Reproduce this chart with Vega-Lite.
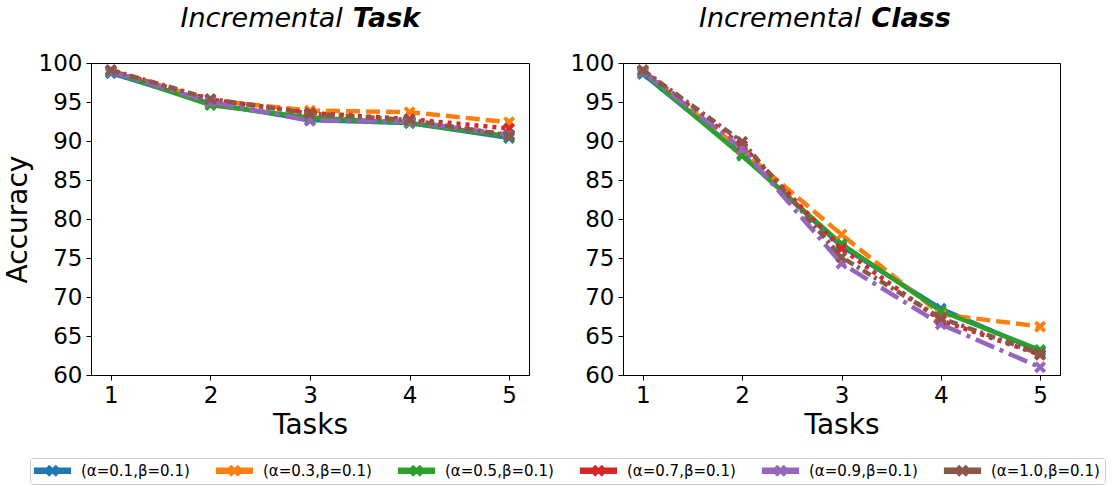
{
  "$schema": "https://vega.github.io/schema/vega-lite/v6.json",
  "padding": {"left": 3, "top": 4, "right": 2, "bottom": 0},
  "data": {"values": [
    {"p": "Task", "s": "(α=0.1,β=0.1)", "t": 1, "a": 98.7},
    {"p": "Task", "s": "(α=0.1,β=0.1)", "t": 2, "a": 94.8},
    {"p": "Task", "s": "(α=0.1,β=0.1)", "t": 3, "a": 92.7},
    {"p": "Task", "s": "(α=0.1,β=0.1)", "t": 4, "a": 92.3},
    {"p": "Task", "s": "(α=0.1,β=0.1)", "t": 5, "a": 90.4},
    {"p": "Task", "s": "(α=0.3,β=0.1)", "t": 1, "a": 99.0},
    {"p": "Task", "s": "(α=0.3,β=0.1)", "t": 2, "a": 95.2},
    {"p": "Task", "s": "(α=0.3,β=0.1)", "t": 3, "a": 93.9},
    {"p": "Task", "s": "(α=0.3,β=0.1)", "t": 4, "a": 93.7},
    {"p": "Task", "s": "(α=0.3,β=0.1)", "t": 5, "a": 92.4},
    {"p": "Task", "s": "(α=0.5,β=0.1)", "t": 1, "a": 98.9},
    {"p": "Task", "s": "(α=0.5,β=0.1)", "t": 2, "a": 94.6},
    {"p": "Task", "s": "(α=0.5,β=0.1)", "t": 3, "a": 93.0},
    {"p": "Task", "s": "(α=0.5,β=0.1)", "t": 4, "a": 92.3},
    {"p": "Task", "s": "(α=0.5,β=0.1)", "t": 5, "a": 90.6},
    {"p": "Task", "s": "(α=0.7,β=0.1)", "t": 1, "a": 99.0},
    {"p": "Task", "s": "(α=0.7,β=0.1)", "t": 2, "a": 95.3},
    {"p": "Task", "s": "(α=0.7,β=0.1)", "t": 3, "a": 93.6},
    {"p": "Task", "s": "(α=0.7,β=0.1)", "t": 4, "a": 92.8},
    {"p": "Task", "s": "(α=0.7,β=0.1)", "t": 5, "a": 91.6},
    {"p": "Task", "s": "(α=0.9,β=0.1)", "t": 1, "a": 98.9},
    {"p": "Task", "s": "(α=0.9,β=0.1)", "t": 2, "a": 95.0},
    {"p": "Task", "s": "(α=0.9,β=0.1)", "t": 3, "a": 92.6},
    {"p": "Task", "s": "(α=0.9,β=0.1)", "t": 4, "a": 92.5},
    {"p": "Task", "s": "(α=0.9,β=0.1)", "t": 5, "a": 90.8},
    {"p": "Task", "s": "(α=1.0,β=0.1)", "t": 1, "a": 99.1},
    {"p": "Task", "s": "(α=1.0,β=0.1)", "t": 2, "a": 95.4},
    {"p": "Task", "s": "(α=1.0,β=0.1)", "t": 3, "a": 93.5},
    {"p": "Task", "s": "(α=1.0,β=0.1)", "t": 4, "a": 92.7},
    {"p": "Task", "s": "(α=1.0,β=0.1)", "t": 5, "a": 90.7},
    {"p": "Class", "s": "(α=0.1,β=0.1)", "t": 1, "a": 98.6},
    {"p": "Class", "s": "(α=0.1,β=0.1)", "t": 2, "a": 88.3},
    {"p": "Class", "s": "(α=0.1,β=0.1)", "t": 3, "a": 76.5},
    {"p": "Class", "s": "(α=0.1,β=0.1)", "t": 4, "a": 68.5},
    {"p": "Class", "s": "(α=0.1,β=0.1)", "t": 5, "a": 63.0},
    {"p": "Class", "s": "(α=0.3,β=0.1)", "t": 1, "a": 98.9},
    {"p": "Class", "s": "(α=0.3,β=0.1)", "t": 2, "a": 88.8},
    {"p": "Class", "s": "(α=0.3,β=0.1)", "t": 3, "a": 78.0},
    {"p": "Class", "s": "(α=0.3,β=0.1)", "t": 4, "a": 67.8},
    {"p": "Class", "s": "(α=0.3,β=0.1)", "t": 5, "a": 66.2},
    {"p": "Class", "s": "(α=0.5,β=0.1)", "t": 1, "a": 98.8},
    {"p": "Class", "s": "(α=0.5,β=0.1)", "t": 2, "a": 88.1},
    {"p": "Class", "s": "(α=0.5,β=0.1)", "t": 3, "a": 76.8},
    {"p": "Class", "s": "(α=0.5,β=0.1)", "t": 4, "a": 68.2},
    {"p": "Class", "s": "(α=0.5,β=0.1)", "t": 5, "a": 63.2},
    {"p": "Class", "s": "(α=0.7,β=0.1)", "t": 1, "a": 99.0},
    {"p": "Class", "s": "(α=0.7,β=0.1)", "t": 2, "a": 89.4},
    {"p": "Class", "s": "(α=0.7,β=0.1)", "t": 3, "a": 76.2},
    {"p": "Class", "s": "(α=0.7,β=0.1)", "t": 4, "a": 67.0},
    {"p": "Class", "s": "(α=0.7,β=0.1)", "t": 5, "a": 62.6},
    {"p": "Class", "s": "(α=0.9,β=0.1)", "t": 1, "a": 98.9},
    {"p": "Class", "s": "(α=0.9,β=0.1)", "t": 2, "a": 89.0},
    {"p": "Class", "s": "(α=0.9,β=0.1)", "t": 3, "a": 74.3},
    {"p": "Class", "s": "(α=0.9,β=0.1)", "t": 4, "a": 66.5},
    {"p": "Class", "s": "(α=0.9,β=0.1)", "t": 5, "a": 61.0},
    {"p": "Class", "s": "(α=1.0,β=0.1)", "t": 1, "a": 99.1},
    {"p": "Class", "s": "(α=1.0,β=0.1)", "t": 2, "a": 89.9},
    {"p": "Class", "s": "(α=1.0,β=0.1)", "t": 3, "a": 75.1},
    {"p": "Class", "s": "(α=1.0,β=0.1)", "t": 4, "a": 67.3},
    {"p": "Class", "s": "(α=1.0,β=0.1)", "t": 5, "a": 62.7}
  ]},
  "spacing": 39,
  "hconcat": [
    {
      "width": 438,
      "height": 312,
      "layer": [
        {
          "transform": [{"filter": "datum.p === 'Task'"}],
          "mark": {"type": "line", "strokeWidth": 4.5},
          "encoding": {
            "x": {"field": "t", "type": "quantitative", "scale": {"domain": [0.8, 5.2], "nice": false, "zero": false}, "axis": {"values": [1, 2, 3, 4, 5], "format": "d", "title": "Tasks"}},
            "y": {"field": "a", "type": "quantitative", "scale": {"domain": [60, 100], "nice": false, "zero": false}, "axis": {"values": [60, 65, 70, 75, 80, 85, 90, 95, 100], "title": "Accuracy"}},
            "color": {"field": "s", "type": "nominal", "scale": {"domain": ["(α=0.1,β=0.1)", "(α=0.3,β=0.1)", "(α=0.5,β=0.1)", "(α=0.7,β=0.1)", "(α=0.9,β=0.1)", "(α=1.0,β=0.1)"], "range": ["#1f77b4", "#ff7f0e", "#2ca02c", "#d62728", "#9467bd", "#8c564b"]}, "legend": {"orient": "none", "legendX": -61, "legendY": 395, "direction": "horizontal", "columns": 6, "title": null, "symbolType": "M-3.1,-0.55H3.1V0.55H-3.1Z M-1,-0.55L-0.55,-1L0,-0.45L0.55,-1L1,-0.55L0.45,0L1,0.55L0.55,1L0,0.45L-0.55,1L-1,0.55L-0.45,0Z", "symbolSize": 144, "symbolStrokeWidth": 0, "symbolOffset": 10, "labelOffset": 21, "labelFont": "DejaVu Sans", "labelFontSize": 15, "labelColor": "black", "columnPadding": 25, "strokeColor": "#cccccc", "cornerRadius": 3, "fillColor": "white", "padding": 5, "encode": {"symbols": {"update": {"fill": {"scale": "color", "field": "value"}, "stroke": {"value": "transparent"}, "opacity": {"value": 1}}}}}},
            "strokeDash": {"field": "s", "type": "nominal", "scale": {"domain": ["(α=0.1,β=0.1)", "(α=0.3,β=0.1)", "(α=0.5,β=0.1)", "(α=0.7,β=0.1)", "(α=0.9,β=0.1)", "(α=1.0,β=0.1)"], "range": [[1, 0], [14, 6], [1, 0], [4, 5], [20, 6, 4, 6], [9, 4, 3, 4]]}, "legend": null}
          }
        },
        {
          "transform": [{"filter": "datum.p === 'Task'"}],
          "mark": {"type": "point", "filled": true, "opacity": 1, "size": 144, "shape": "M-1,-0.55L-0.55,-1L0,-0.45L0.55,-1L1,-0.55L0.45,0L1,0.55L0.55,1L0,0.45L-0.55,1L-1,0.55L-0.45,0Z"},
          "encoding": {
            "x": {"field": "t", "type": "quantitative", "axis": {"values": [1, 2, 3, 4, 5], "format": "d", "title": "Tasks"}},
            "y": {"field": "a", "type": "quantitative", "axis": {"values": [60, 65, 70, 75, 80, 85, 90, 95, 100], "title": "Accuracy"}},
            "color": {"field": "s", "type": "nominal"}
          }
        },
        {
          "data": {"values": [{"txt": "Incremental"}]},
          "mark": {"type": "text", "align": "right", "baseline": "alphabetic", "dx": -5, "dy": -36, "font": "DejaVu Sans", "fontSize": 27, "fontStyle": "italic", "fontWeight": "normal", "color": "black"},
          "encoding": {
            "text": {"field": "txt"},
            "x": {"datum": 3.38, "type": "quantitative", "axis": {"values": [1, 2, 3, 4, 5], "format": "d", "title": "Tasks"}},
            "y": {"datum": 100, "type": "quantitative", "axis": {"values": [60, 65, 70, 75, 80, 85, 90, 95, 100], "title": "Accuracy"}}
          }
        },
        {
          "data": {"values": [{"txt": "Task"}]},
          "mark": {"type": "text", "align": "left", "baseline": "alphabetic", "dx": 5, "dy": -36, "font": "DejaVu Sans", "fontSize": 27, "fontStyle": "italic", "fontWeight": "bold", "color": "black"},
          "encoding": {
            "text": {"field": "txt"},
            "x": {"datum": 3.38, "type": "quantitative", "axis": {"values": [1, 2, 3, 4, 5], "format": "d", "title": "Tasks"}},
            "y": {"datum": 100, "type": "quantitative", "axis": {"values": [60, 65, 70, 75, 80, 85, 90, 95, 100], "title": "Accuracy"}}
          }
        }
      ]
    },
    {
      "width": 437,
      "height": 312,
      "layer": [
        {
          "transform": [{"filter": "datum.p === 'Class'"}],
          "mark": {"type": "line", "strokeWidth": 4.5},
          "encoding": {
            "x": {"field": "t", "type": "quantitative", "scale": {"domain": [0.8, 5.2], "nice": false, "zero": false}, "axis": {"values": [1, 2, 3, 4, 5], "format": "d", "title": "Tasks"}},
            "y": {"field": "a", "type": "quantitative", "scale": {"domain": [60, 100], "nice": false, "zero": false}, "axis": {"values": [60, 65, 70, 75, 80, 85, 90, 95, 100], "title": null}},
            "color": {"field": "s", "type": "nominal"},
            "strokeDash": {"field": "s", "type": "nominal", "legend": null}
          }
        },
        {
          "transform": [{"filter": "datum.p === 'Class'"}],
          "mark": {"type": "point", "filled": true, "opacity": 1, "size": 144, "shape": "M-1,-0.55L-0.55,-1L0,-0.45L0.55,-1L1,-0.55L0.45,0L1,0.55L0.55,1L0,0.45L-0.55,1L-1,0.55L-0.45,0Z"},
          "encoding": {
            "x": {"field": "t", "type": "quantitative", "axis": {"values": [1, 2, 3, 4, 5], "format": "d", "title": "Tasks"}},
            "y": {"field": "a", "type": "quantitative", "axis": {"values": [60, 65, 70, 75, 80, 85, 90, 95, 100], "title": null}},
            "color": {"field": "s", "type": "nominal"}
          }
        },
        {
          "data": {"values": [{"txt": "Incremental"}]},
          "mark": {"type": "text", "align": "right", "baseline": "alphabetic", "dx": -5, "dy": -36, "font": "DejaVu Sans", "fontSize": 27, "fontStyle": "italic", "fontWeight": "normal", "color": "black"},
          "encoding": {
            "text": {"field": "txt"},
            "x": {"datum": 3.25, "type": "quantitative", "axis": {"values": [1, 2, 3, 4, 5], "format": "d", "title": "Tasks"}},
            "y": {"datum": 100, "type": "quantitative", "axis": {"values": [60, 65, 70, 75, 80, 85, 90, 95, 100], "title": null}}
          }
        },
        {
          "data": {"values": [{"txt": "Class"}]},
          "mark": {"type": "text", "align": "left", "baseline": "alphabetic", "dx": 5, "dy": -36, "font": "DejaVu Sans", "fontSize": 27, "fontStyle": "italic", "fontWeight": "bold", "color": "black"},
          "encoding": {
            "text": {"field": "txt"},
            "x": {"datum": 3.25, "type": "quantitative", "axis": {"values": [1, 2, 3, 4, 5], "format": "d", "title": "Tasks"}},
            "y": {"datum": 100, "type": "quantitative", "axis": {"values": [60, 65, 70, 75, 80, 85, 90, 95, 100], "title": null}}
          }
        }
      ]
    }
  ],
  "config": {
    "view": {"stroke": "black", "strokeWidth": 1},
    "axis": {"grid": false, "domainColor": "black", "domainWidth": 1, "tickColor": "black", "tickSize": 5, "tickWidth": 1, "labelFont": "DejaVu Sans", "labelFontSize": 23, "labelColor": "black", "labelPadding": 4, "labelOverlap": false, "labelFlush": false, "titleFont": "DejaVu Sans", "titleFontSize": 28, "titleFontWeight": "normal", "titleColor": "black"},
    "axisX": {"titlePadding": 4},
    "axisY": {"titlePadding": 6}
  }
}
